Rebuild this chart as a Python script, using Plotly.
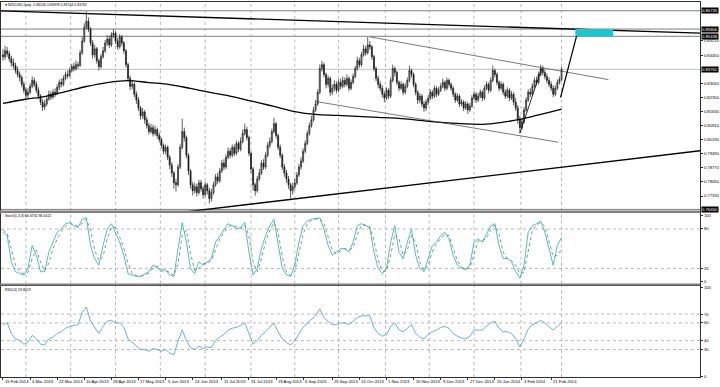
import plotly.graph_objects as go

# ---------------- data ----------------
first_open = 0.8450
closes = [
0.8440, 0.8470, 0.8455, 0.8430, 0.8410, 0.8395, 0.8370, 0.8350, 0.8335, 0.8300,
0.8270, 0.8245, 0.8260, 0.8290, 0.8320, 0.8300, 0.8270, 0.8240, 0.8210, 0.8185,
0.8200, 0.8225, 0.8250, 0.8235, 0.8260, 0.8255, 0.8285, 0.8310, 0.8300, 0.8330,
0.8350, 0.8345, 0.8370, 0.8390, 0.8380, 0.8400, 0.8395, 0.8460, 0.8520, 0.8590,
0.8620, 0.8580, 0.8510, 0.8450, 0.8480, 0.8420, 0.8390, 0.8440, 0.8470, 0.8510,
0.8530, 0.8500, 0.8550, 0.8560, 0.8520, 0.8490, 0.8540, 0.8510, 0.8470, 0.8400,
0.8330, 0.8290, 0.8300, 0.8250, 0.8220, 0.8180, 0.8140, 0.8160, 0.8120, 0.8090,
0.8060, 0.8080, 0.8050, 0.8070, 0.8040, 0.8020, 0.7990, 0.7960, 0.7980, 0.7930,
0.7890, 0.7850, 0.7800, 0.7790, 0.7880, 0.7980, 0.8060, 0.8030, 0.7940, 0.7860,
0.7790, 0.7760, 0.7780, 0.7750, 0.7800, 0.7770, 0.7740, 0.7790, 0.7760, 0.7720,
0.7750, 0.7790, 0.7830, 0.7810, 0.7860, 0.7900, 0.7880, 0.7930, 0.7960, 0.7940,
0.7980, 0.7950, 0.8000, 0.7970, 0.8010, 0.8050, 0.8070, 0.8030, 0.7950, 0.7870,
0.7790, 0.7760, 0.7820, 0.7850, 0.7900, 0.7880, 0.7940, 0.7990, 0.8010, 0.8060,
0.8100, 0.8040, 0.7980, 0.7940, 0.7880, 0.7850, 0.7820, 0.7790, 0.7760, 0.7780,
0.7800, 0.7840, 0.7880, 0.7910, 0.7960, 0.8000, 0.8050, 0.8090, 0.8120, 0.8170,
0.8200, 0.8260, 0.8380, 0.8400, 0.8350, 0.8300, 0.8330, 0.8260, 0.8280, 0.8300,
0.8270, 0.8310, 0.8290, 0.8320, 0.8300, 0.8330, 0.8280, 0.8310, 0.8340, 0.8380,
0.8420, 0.8400, 0.8450, 0.8480, 0.8460, 0.8500, 0.8490, 0.8440, 0.8380, 0.8330,
0.8300, 0.8280, 0.8250, 0.8230, 0.8270, 0.8240, 0.8320, 0.8380, 0.8360, 0.8310,
0.8280, 0.8300, 0.8260, 0.8290, 0.8320, 0.8370, 0.8350, 0.8300, 0.8260, 0.8220,
0.8240, 0.8200, 0.8180, 0.8210, 0.8230, 0.8260, 0.8240, 0.8280, 0.8250, 0.8270,
0.8290, 0.8310, 0.8280, 0.8320, 0.8300, 0.8280, 0.8250, 0.8220, 0.8240, 0.8200,
0.8210, 0.8180, 0.8200, 0.8170, 0.8190, 0.8230, 0.8250, 0.8220, 0.8240, 0.8260,
0.8230, 0.8280, 0.8300, 0.8270, 0.8320, 0.8370, 0.8350, 0.8310, 0.8280, 0.8300,
0.8260, 0.8240, 0.8270, 0.8230, 0.8250, 0.8210, 0.8180, 0.8120, 0.8080, 0.8110,
0.8170, 0.8220, 0.8260, 0.8250, 0.8290, 0.8320, 0.8310, 0.8350, 0.8380, 0.8360,
0.8340, 0.8320, 0.8300, 0.8280, 0.8250, 0.8280, 0.8310, 0.8325, 0.83762,
]
highs = [
.8480,.8495,.8490,.8470,.8445,.8430,.8410,.8390,.8365,.8345,
.8315,.8285,.8280,.8305,.8340,.8335,.8315,.8285,.8250,.8225,
.8220,.8240,.8270,.8265,.8275,.8280,.8300,.8325,.8330,.8345,
.8365,.8370,.8385,.8405,.8410,.8420,.8415,.8475,.8540,.8610,
.8670,.8640,.8590,.8525,.8500,.8490,.8430,.8455,.8490,.8525,
.8550,.8545,.8565,.8580,.8570,.8535,.8555,.8550,.8520,.8480,
.8410,.8345,.8320,.8310,.8265,.8235,.8190,.8180,.8170,.8135,
.8105,.8100,.8095,.8090,.8080,.8055,.8030,.8000,.7995,.7990,
.7940,.7905,.7860,.7820,.7895,.7995,.8125,.8080,.8040,.7950,
.7870,.7805,.7800,.7795,.7815,.7815,.7785,.7805,.7800,.7775,
.7770,.7805,.7845,.7850,.7875,.7915,.7920,.7945,.7980,.7975,
.7995,.7995,.8015,.8010,.8030,.8070,.8100,.8085,.8040,.7960,
.7880,.7800,.7835,.7870,.7915,.7920,.7955,.8005,.8030,.8075,
.8130,.8110,.8050,.7995,.7950,.7895,.7865,.7835,.7800,.7800,
.7820,.7855,.7895,.7930,.7975,.8015,.8065,.8105,.8140,.8185,
.8220,.8275,.8400,.8420,.8410,.8360,.8345,.8340,.8300,.8320,
.8315,.8325,.8330,.8340,.8335,.8350,.8340,.8325,.8355,.8395,
.8440,.8435,.8465,.8500,.8495,.8540,.8520,.8500,.8450,.8390,
.8345,.8315,.8295,.8265,.8285,.8280,.8335,.8400,.8390,.8370,
.8320,.8315,.8310,.8305,.8335,.8395,.8380,.8360,.8310,.8270,
.8255,.8250,.8215,.8225,.8245,.8275,.8270,.8295,.8290,.8285,
.8305,.8330,.8320,.8335,.8330,.8310,.8290,.8260,.8255,.8250,
.8225,.8220,.8215,.8210,.8205,.8245,.8265,.8260,.8255,.8275,
.8270,.8295,.8315,.8310,.8335,.8395,.8380,.8360,.8320,.8315,
.8310,.8275,.8285,.8280,.8265,.8260,.8230,.8195,.8140,.8125,
.8185,.8235,.8275,.8280,.8305,.8335,.8340,.8365,.8400,.8395,
.8375,.8355,.8335,.8315,.8295,.8295,.8325,.8340,.83878,
]
lows = [
.8420,.8425,.8440,.8415,.8390,.8380,.8355,.8335,.8315,.8285,
.8255,.8225,.8230,.8250,.8280,.8285,.8255,.8225,.8195,.8165,
.8170,.8190,.8215,.8220,.8225,.8235,.8245,.8270,.8285,.8290,
.8320,.8330,.8335,.8360,.8365,.8370,.8380,.8390,.8450,.8510,
.8580,.8565,.8495,.8430,.8435,.8405,.8370,.8380,.8430,.8460,
.8495,.8485,.8490,.8535,.8505,.8475,.8480,.8495,.8455,.8385,
.8315,.8270,.8275,.8235,.8200,.8165,.8120,.8125,.8100,.8075,
.8045,.8050,.8035,.8040,.8025,.8005,.7975,.7945,.7945,.7915,
.7870,.7830,.7770,.7755,.7780,.7870,.7970,.8010,.7925,.7840,
.7770,.7735,.7745,.7730,.7740,.7755,.7720,.7730,.7740,.7695,
.7705,.7740,.7780,.7795,.7800,.7850,.7865,.7870,.7920,.7925,
.7930,.7935,.7940,.7955,.7960,.8000,.8040,.8015,.7935,.7850,
.7760,.7735,.7750,.7810,.7840,.7865,.7870,.7930,.7975,.8000,
.8050,.8025,.7965,.7925,.7865,.7830,.7800,.7770,.7720,.7740,
.7765,.7790,.7830,.7865,.7900,.7950,.7990,.8040,.8080,.8110,
.8160,.8190,.8250,.8365,.8335,.8280,.8285,.8240,.8245,.8265,
.8255,.8260,.8275,.8280,.8285,.8290,.8265,.8270,.8300,.8330,
.8370,.8385,.8390,.8440,.8445,.8450,.8475,.8425,.8365,.8315,
.8280,.8265,.8235,.8210,.8220,.8225,.8230,.8310,.8340,.8295,
.8265,.8270,.8245,.8250,.8280,.8310,.8335,.8285,.8245,.8200,
.8205,.8185,.8160,.8165,.8195,.8220,.8225,.8230,.8235,.8240,
.8260,.8280,.8265,.8270,.8285,.8265,.8235,.8205,.8210,.8185,
.8190,.8165,.8170,.8150,.8160,.8180,.8220,.8205,.8210,.8230,
.8215,.8220,.8270,.8255,.8260,.8310,.8335,.8295,.8265,.8270,
.8245,.8225,.8230,.8215,.8220,.8195,.8165,.8100,.8052,.8070,
.8100,.8160,.8210,.8235,.8240,.8280,.8295,.8300,.8340,.8345,
.8325,.8305,.8285,.8265,.8235,.8240,.8270,.8300,.83154,
]
opens = [first_open] + closes[:-1]
bars = list(range(len(closes)))

# moving average (read at sample bars)
ma_bars = [0, 10, 20, 30, 40, 50, 60, 70, 80, 90, 100, 110, 120, 130, 140, 150, 160,
           170, 180, 190, 200, 210, 220, 230, 240, 248, 256, 262, 268]
ma_vals = [0.8203, 0.8223, 0.8238, 0.8263, 0.8289, 0.8309, 0.8319, 0.8309, 0.8299, 0.8279,
           0.8258, 0.8238, 0.8213, 0.8188, 0.8162, 0.8147, 0.8142, 0.8137, 0.8132, 0.8127,
           0.8117, 0.8107, 0.8100, 0.8097, 0.8108, 0.8122, 0.8142, 0.8158, 0.8174]

# indicator samples (every second bar)
ind_bars = list(range(0, 269, 2))
stoch_main = [75,70,30,15,12,10,20,55,40,15, 15,45,60,75,80,88,90,85,82,95,
              97,55,35,25,55,80,88,75,60,40, 12,10,8,8,12,15,25,22,15,18,
              10,8,50,90,60,20,12,30,25,30, 35,60,70,78,88,85,80,82,90,45,
              10,20,50,70,85,95,55,20,10,8, 25,60,85,92,95,96,97,80,55,40,
              45,50,50,45,60,85,88,85,82,45, 20,12,20,60,85,45,35,60,80,40,
              20,15,35,55,60,70,75,65,40,25, 20,18,25,60,65,60,72,85,88,55,
              35,35,30,15,5,25,75,85,88,92, 75,50,25,55,67]
stoch_signal = [78,74,50,25,15,12,14,35,48,30, 16,28,50,65,76,84,88,87,84,88,
                95,78,48,32,38,65,83,82,68,50, 28,12,9,8,10,13,20,23,19,16,
                14,9,28,70,78,42,17,20,27,28, 32,48,65,74,83,86,83,81,86,70,
                30,15,35,60,78,90,75,38,15,9, 15,42,72,88,93,95,96,88,68,48,
                42,47,50,48,52,72,86,86,84,62, 33,16,16,40,72,65,40,48,70,60,
                30,17,25,45,58,65,72,70,52,32, 22,19,21,42,62,62,66,78,86,72,
                45,35,32,25,12,14,45,78,86,90, 84,62,38,40,50]
rsi_vals = [58,60,48,42,40,36,38,46,42,36, 35,42,44,48,50,54,56,57,58,72,
            78,62,55,48,56,62,63,60,60,55, 42,38,35,30,30,28,31,30,28,30,
            26,24,40,52,40,32,30,34,31,33, 32,40,44,47,52,54,55,57,60,48,
            36,40,46,50,55,60,50,42,38,35, 40,48,55,60,64,68,76,66,62,58,
            58,60,60,58,62,66,68,68,68,55, 48,45,47,56,60,52,50,54,58,48,
            44,42,47,50,52,55,56,54,48,45, 43,42,45,52,52,52,56,60,62,54,
            50,50,48,42,33,42,53,58,60,63, 60,56,52,56,59.85]

# drawn objects (bar index, price)
desc_line_bars, desc_line_px = [-1.5, 334.5], [0.8673, 0.8560]
chan_top_bars, chan_top_px = [176, 290.5], [0.8541, 0.8324]
chan_bot_bars, chan_bot_px = [150, 266.5], [0.8213, 0.8006]
support_bars, support_px = [85.6, 334.5], [0.7650, 0.7963]
steep_bars, steep_px = [248, 258.4], [0.8052, 0.8380]
proj_bars, proj_px = [267.5, 276.1], [0.8233, 0.8582]
level_px = [0.86735, 0.85806, 0.85438, 0.76650]
current_px = 0.83762
zone_bars, zone_px = [274.6, 292.8], [0.85438, 0.85806]

price_ticks = [0.85210, 0.84450, 0.83050, 0.82350, 0.81630, 0.80910, 0.80190,
               0.79490, 0.78770, 0.78050, 0.77330]
boxed_labels = [0.86735, 0.85806, 0.85438, 0.83762, 0.76650]
date_labels = ["15 Feb 2013", "4 Mar 2013", "22 Mar 2013", "10 Apr 2013", "29 Apr 2013",
               "17 May 2013", "5 Jun 2013", "24 Jun 2013", "11 Jul 2013", "31 Jul 2013",
               "19 Aug 2013", "6 Sep 2013", "25 Sep 2013", "14 Oct 2013", "1 Nov 2013",
               "20 Nov 2013", "9 Dec 2013", "27 Dec 2013", "15 Jan 2014", "3 Feb 2014",
               "21 Feb 2014"]
date_bars = [0, 13, 26, 39, 52, 65, 78, 91, 105, 118, 131, 144, 158, 171, 184, 197,
             210, 223, 236, 249, 263]
grid_bars = [11, 32.5, 54, 75.5, 97, 119, 140, 161, 183.5, 204.5, 226, 248.5, 268]
stoch_levels = [20, 80]
rsi_levels = [30, 40, 60, 70]

# ---------------- figure ----------------
W, H = 720, 387
FONT = "Liberation Sans"
def py(p):
    return 1 - p / H

XR = [-0.96, 334.45]
XDOM = [1 / W, 702 / W]
MAIN = [py(211), py(1)]
STO = [py(284), py(213)]
RSI = [py(378), py(286)]

fig = go.Figure()
fig.add_trace(go.Candlestick(
    x=bars, open=opens, high=highs, low=lows, close=closes,
    increasing=dict(line=dict(color="#1a1a1a", width=0.7), fillcolor="#9a9a9a"),
    decreasing=dict(line=dict(color="#1a1a1a", width=0.7), fillcolor="#1a1a1a"),
    whiskerwidth=0, showlegend=False, hoverinfo="skip", xaxis="x", yaxis="y"))

line_cfg = [
    (ma_bars, ma_vals, "#000000", 1.3, "spline"),
    (desc_line_bars, desc_line_px, "#000000", 1.3, "linear"),
    (chan_top_bars, chan_top_px, "#404040", 0.7, "linear"),
    (chan_bot_bars, chan_bot_px, "#404040", 0.7, "linear"),
    (support_bars, support_px, "#000000", 1.3, "linear"),
    (steep_bars, steep_px, "#000000", 0.8, "linear"),
    (proj_bars, proj_px, "#000000", 1.2, "linear"),
]
for xs, ys, col, w, shp in line_cfg:
    fig.add_trace(go.Scatter(x=xs, y=ys, mode="lines", line=dict(color=col, width=w, shape=shp),
                             showlegend=False, hoverinfo="skip", xaxis="x", yaxis="y"))

fig.add_trace(go.Scatter(x=ind_bars, y=stoch_main, mode="lines",
                         line=dict(color="#20b2aa", width=0.8), showlegend=False,
                         hoverinfo="skip", xaxis="x2", yaxis="y2"))
fig.add_trace(go.Scatter(x=ind_bars, y=stoch_signal, mode="lines",
                         line=dict(color="#707070", width=0.8, dash="dot"), showlegend=False,
                         hoverinfo="skip", xaxis="x2", yaxis="y2"))
fig.add_trace(go.Scatter(x=ind_bars, y=rsi_vals, mode="lines",
                         line=dict(color="#4a9cc0", width=0.8), showlegend=False,
                         hoverinfo="skip", xaxis="x3", yaxis="y3"))

shapes = []
for lv in level_px:
    shapes.append(dict(type="line", xref="paper", yref="y", x0=XDOM[0], x1=XDOM[1], y0=lv, y1=lv,
                       line=dict(color="#707070", width=0.9), layer="below"))
shapes.append(dict(type="line", xref="paper", yref="y", x0=XDOM[0], x1=XDOM[1],
                   y0=current_px, y1=current_px, line=dict(color="#c0c0c0", width=1), layer="below"))
shapes.append(dict(type="rect", xref="x", yref="y", x0=zone_bars[0], x1=zone_bars[1],
                   y0=zone_px[0], y1=zone_px[1], fillcolor="#1cc6c9", line=dict(width=0)))
for gb in grid_bars:
    for xr, yr in (("x", "y domain"), ("x2", "y2 domain"), ("x3", "y3 domain")):
        shapes.append(dict(type="line", xref=xr, yref=yr, x0=gb, x1=gb, y0=0, y1=1,
                           line=dict(color="#9a9a9a", width=0.7, dash="dot"), layer="below"))
for lv in stoch_levels:
    shapes.append(dict(type="line", xref="paper", yref="y2", x0=XDOM[0], x1=XDOM[1], y0=lv, y1=lv,
                       line=dict(color="#9a9a9a", width=0.7, dash="dot"), layer="below"))
for lv in rsi_levels:
    shapes.append(dict(type="line", xref="paper", yref="y3", x0=XDOM[0], x1=XDOM[1], y0=lv, y1=lv,
                       line=dict(color="#9a9a9a", width=0.7, dash="dot"), layer="below"))
shapes.append(dict(type="rect", xref="paper", yref="paper", x0=0, x1=XDOM[1],
                   y0=py(213), y1=py(210.5), fillcolor="#808080", line=dict(width=0)))
shapes.append(dict(type="rect", xref="paper", yref="paper", x0=0, x1=XDOM[1],
                   y0=py(286), y1=py(284), fillcolor="#808080", line=dict(width=0)))

ann = []
ann.append(dict(text="\u25be NZDUSD,Daily  0.83246 0.83878 0.83154 0.83762", xref="paper", yref="paper",
                x=3 / W, y=py(4), xanchor="left", yanchor="middle", showarrow=False,
                font=dict(size=3.5, color="#000000", family=FONT)))
ann.append(dict(text="Stoch(5,3,3) 66.6732 86.6422", xref="paper", yref="paper",
                x=3 / W, y=py(216.5), xanchor="left", yanchor="middle", showarrow=False,
                font=dict(size=3.5, color="#000000", family=FONT)))
ann.append(dict(text="RSI(14) 59.8519", xref="paper", yref="paper",
                x=3 / W, y=py(290), xanchor="left", yanchor="middle", showarrow=False,
                font=dict(size=3.5, color="#000000", family=FONT)))
for lab in boxed_labels:
    ann.append(dict(text=f"{lab:.5f}", xref="paper", yref="y", x=703 / W, y=lab,
                    xanchor="left", yanchor="middle", showarrow=False, bgcolor="#000000",
                    borderpad=0, font=dict(size=4.2, color="#ffffff", family=FONT)))
for lab, b in zip(date_labels, date_bars):
    ann.append(dict(text=lab, xref="x", yref="paper", x=b, y=py(382.5), xanchor="left",
                    yanchor="middle", showarrow=False,
                    font=dict(size=4.2, color="#000000", family=FONT)))

axis_common = dict(showgrid=False, zeroline=False, showline=True, mirror=True,
                   linecolor="#303030", linewidth=1)
fig.update_layout(
    width=W, height=H, margin=dict(l=0, r=0, t=0, b=0),
    paper_bgcolor="#ffffff", plot_bgcolor="#ffffff",
    font=dict(family=FONT, size=4, color="#000000"),
    shapes=shapes, annotations=ann, showlegend=False,
    xaxis=dict(domain=XDOM, range=XR, anchor="y", showticklabels=False,
               rangeslider=dict(visible=False), **axis_common),
    xaxis2=dict(domain=XDOM, matches="x", anchor="y2", showticklabels=False, **axis_common),
    xaxis3=dict(domain=XDOM, matches="x", anchor="y3", showticklabels=False,
                tickvals=date_bars, ticks="outside", ticklen=2, tickcolor="#303030", **axis_common),
    yaxis=dict(domain=MAIN, range=[0.76574, 0.87180], anchor="x", side="right",
               tickvals=price_ticks, ticktext=[f"{v:.5f}" for v in price_ticks],
               ticks="outside", ticklen=2, tickcolor="#303030",
               tickfont=dict(size=4.2, family=FONT), **axis_common),
    yaxis2=dict(domain=STO, range=[-3.0, 104.5], anchor="x2", side="right",
                tickvals=[0, 20, 80, 100], ticks="outside", ticklen=2, tickcolor="#303030",
                tickfont=dict(size=4.2, family=FONT), **axis_common),
    yaxis3=dict(domain=RSI, range=[-1.1, 102.2], anchor="x3", side="right",
                tickvals=[0, 30, 40, 60, 70, 100], ticks="outside", ticklen=2, tickcolor="#303030",
                tickfont=dict(size=4.2, family=FONT), **axis_common),
)
fig.write_html("out.html")
